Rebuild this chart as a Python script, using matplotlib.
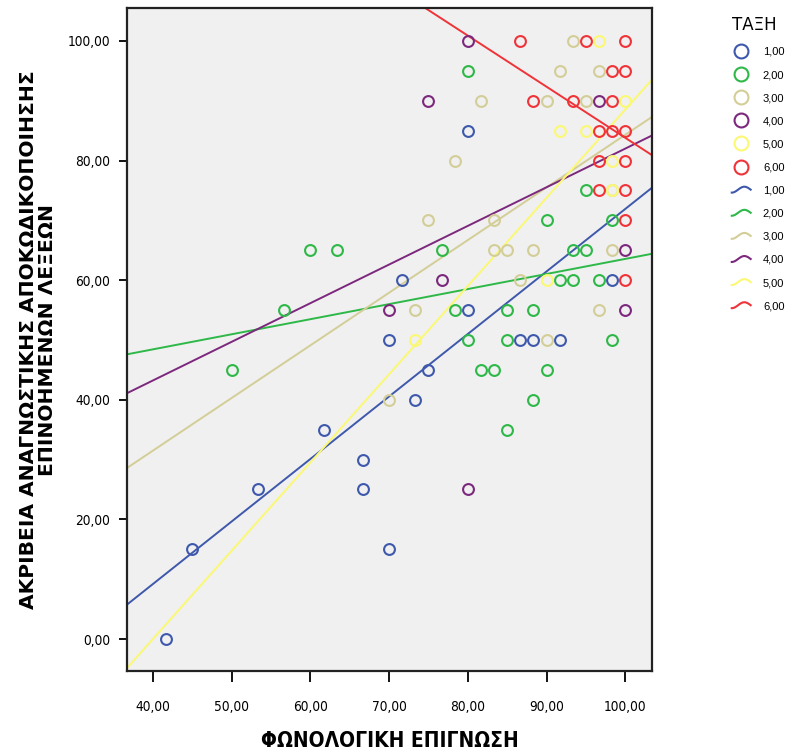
import numpy as np
import matplotlib
matplotlib.use("Agg")
import matplotlib.pyplot as plt
from matplotlib.lines import Line2D
from matplotlib.legend_handler import HandlerBase

# ---- data: (phonological awareness, decoding accuracy) per class ----
groups = ["1,00", "2,00", "3,00", "4,00", "5,00", "6,00"]
colors = ["#3E58AC", "#2EB848", "#D3CE97", "#7C287D", "#FBF873", "#EF3338"]

x_g1 = [41.67, 45, 53.33, 61.67, 66.67, 66.67, 70, 70, 71.67, 73.33, 75, 80, 80, 86.67, 88.33, 91.67, 98.33]
y_g1 = [0, 15, 25, 35, 30, 25, 15, 50, 60, 40, 45, 85, 55, 50, 50, 50, 60]

x_g2 = [50, 56.67, 60, 63.33, 76.67, 78.33, 80, 80, 81.67, 83.33, 85, 85, 85, 88.33, 88.33,
        90, 90, 91.67, 93.33, 93.33, 95, 95, 96.67, 98.33, 98.33]
y_g2 = [45, 55, 65, 65, 65, 55, 95, 50, 45, 45, 55, 50, 35, 55, 40,
        70, 45, 60, 65, 60, 75, 65, 60, 70, 50]

x_g3 = [70, 73.33, 75, 78.33, 81.67, 83.33, 83.33, 85, 86.67, 88.33, 90, 90, 91.67, 93.33,
        95, 96.67, 96.67, 98.33, 98.33]
y_g3 = [40, 55, 70, 80, 90, 70, 65, 65, 60, 65, 90, 50, 95, 100, 90, 95, 55, 75, 65]

x_g4 = [70, 75, 76.67, 80, 80, 96.67, 100, 100]
y_g4 = [55, 90, 60, 100, 25, 90, 65, 55]

x_g5 = [73.33, 90, 91.67, 95, 96.67, 98.33, 98.33, 100]
y_g5 = [50, 60, 85, 85, 100, 80, 75, 90]

x_g6 = [86.67, 88.33, 93.33, 95, 98.33, 98.33, 98.33, 96.67, 96.67, 96.67,
        100, 100, 100, 100, 100, 100, 100]
y_g6 = [100, 90, 90, 100, 95, 90, 85, 85, 80, 75, 100, 95, 85, 80, 75, 70, 60]

# linear fit lines per class (slope, intercept)
fit_slope = [1.045, 0.252, 0.880, 0.646, 1.475, -0.854]
fit_intercept = [-32.6, 38.35, -3.70, 17.39, -58.98, 169.2]

x_ticks = [40, 50, 60, 70, 80, 90, 100]
y_ticks = [0, 20, 40, 60, 80, 100]

xs_all = [x_g1, x_g2, x_g3, x_g4, x_g5, x_g6]
ys_all = [y_g1, y_g2, y_g3, y_g4, y_g5, y_g6]

regular = ["Liberation Sans", "DejaVu Sans"]

fig = plt.figure(figsize=(7.85, 7.53), dpi=100)
ax = fig.add_axes([127 / 785, 1 - 671 / 753, (652 - 127) / 785, (671 - 8) / 753])
ax.set_facecolor("#F0F0F0")

xlim = (36.7, 103.4)
ylim = (-5.35, 105.5)
ax.set_xlim(*xlim)
ax.set_ylim(*ylim)

for xs, ys, c in zip(xs_all, ys_all, colors):
    ax.plot(xs, ys, linestyle="none", marker="o", markersize=7.8,
            markerfacecolor="none", markeredgecolor=c, markeredgewidth=1.5, zorder=3)

xx = np.array(xlim)
for m, b, c in zip(fit_slope, fit_intercept, colors):
    ax.plot(xx, m * xx + b, color=c, linewidth=1.4, zorder=2)

for s in ax.spines.values():
    s.set_linewidth(1.6)
    s.set_color("#222222")

ax.set_xticks(x_ticks)
ax.set_yticks(y_ticks)
tick_font = dict(fontfamily="DejaVu Sans", fontstretch="condensed", fontsize=9.8)
ax.set_xticklabels([f"{v:.2f}".replace(".", ",") for v in x_ticks], **tick_font)
ax.set_yticklabels([f"{v:.2f}".replace(".", ",") for v in y_ticks], **tick_font)
ax.tick_params(axis="x", direction="out", length=8, width=1.3, pad=13)
ax.tick_params(axis="y", direction="out", length=6, width=1.3, pad=6)

ax.set_xlabel("ΦΩΝΟΛΟΓΙΚΗ ΕΠΙΓΝΩΣΗ", fontfamily="DejaVu Sans", fontstretch="condensed",
              fontweight="bold", fontsize=15, labelpad=12)
ax.set_ylabel("ΑΚΡΙΒΕΙΑ ΑΝΑΓΝΩΣΤΙΚΗΣ ΑΠΟΚΩΔΙΚΟΠΟΙΗΣΗΣ\nΕΠΙΝΟΗΜΕΝΩΝ ΛΕΞΕΩΝ",
              fontfamily="DejaVu Sans", fontweight="bold", fontsize=14.6,
              labelpad=8, linespacing=0.95)


class WaveHandler(HandlerBase):
    def create_artists(self, legend, orig_handle, xdescent, ydescent,
                       width, height, fontsize, trans):
        t = np.linspace(0, 1, 40)
        px = -xdescent + t * width
        py = -ydescent + height / 2 + height * 0.38 * np.sin(2 * np.pi * 0.75 * t - np.pi / 2)
        ln = Line2D(px, py, color=orig_handle.get_color(), linewidth=1.5, transform=trans)
        return [ln]


marker_handles = [Line2D([], [], linestyle="none", marker="o", markersize=10,
                         markerfacecolor="none", markeredgecolor=c, markeredgewidth=1.5)
                  for c in colors]
line_handles = [Line2D([], [], color=c, linewidth=1.5) for c in colors]
handler_map = {h: WaveHandler() for h in line_handles}

leg = fig.legend(marker_handles + line_handles, groups + groups,
                 handler_map=handler_map, loc="upper left",
                 bbox_to_anchor=(724 / 785, 1 - 8 / 753), frameon=False,
                 title="ΤΑΞΗ", title_fontsize=12, prop={"family": regular, "size": 8},
                 handlelength=1.7, handletextpad=1.1, labelspacing=1.18,
                 borderpad=0.2)
leg._legend_box.align = "left"

fig.savefig("out.png", dpi=100, facecolor="white")
